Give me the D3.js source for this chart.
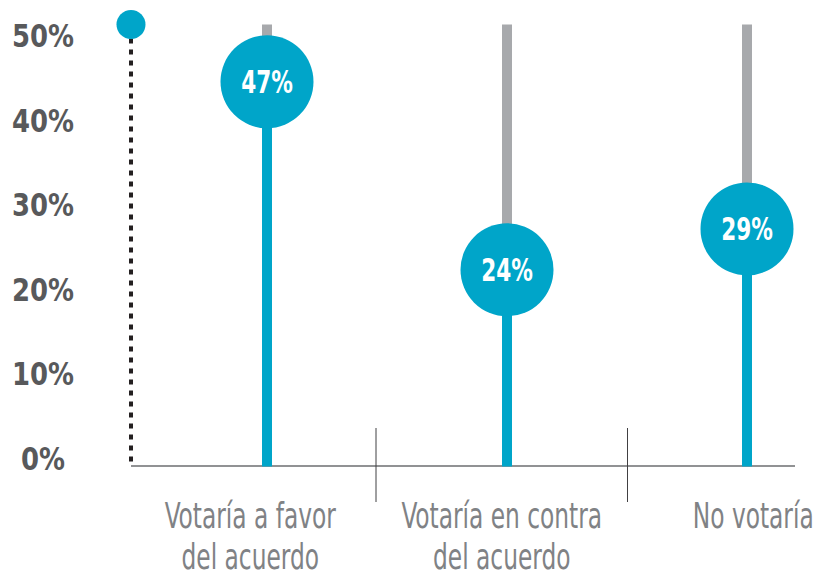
<!DOCTYPE html>
<html>
<head>
<meta charset="utf-8">
<script src="https://cdn.jsdelivr.net/npm/d3@7"></script>
<style>
  html, body { margin: 0; padding: 0; background: #fff; }
  svg { display: block; }
  text { font-family: "DejaVu Sans Condensed", "DejaVu Sans", sans-serif; font-stretch: condensed; }
</style>
</head>
<body>
<svg id="chart" width="815" height="579"></svg>
<script>
// chart data
const categories = ['Votaría a favor del acuerdo', 'Votaría en contra del acuerdo', 'No votaría'];
const categoryLines = [['Votaría a favor', 'del acuerdo'], ['Votaría en contra', 'del acuerdo'], ['No votaría']];
const values = [47, 24, 29];
const yTicks = [0, 10, 20, 30, 40, 50];
const trackTop = 54;

const baseY = 466;
const blue = '#00a5c9';
const grey = '#a7a9ac';

const svg = d3.select('#chart');

const y = d3.scaleLinear().domain([0, trackTop]).range([baseY, 24.5]);
const yTickScale = d3.scaleLinear().domain([0, 50]).range([458, 35.5]);
const xBar = d3.scalePoint().domain(categories).range([267, 747]);
const xBand = d3.scaleBand().domain(categories).range([124.5, 879]);

// y tick labels
const yAxis = d3.axisLeft(yTickScale).tickValues(yTicks).tickSize(0).tickFormat((d) => `${d}%`);
const yG = svg.append('g').attr('transform', 'translate(43,0)').call(yAxis);
yG.select('.domain').remove();
yG.selectAll('.tick')
  .attr('transform', (d) => `translate(0,${yTickScale(d)}) scale(0.9,1)`);
yG.selectAll('text')
  .attr('x', 0)
  .attr('dy', '0.36em')
  .attr('text-anchor', 'middle')
  .attr('fill', '#58595b')
  .style('font-family', '"DejaVu Sans Condensed", "DejaVu Sans", sans-serif')
  .style('font-weight', 'bold')
  .style('font-size', '32px');

// dotted axis + top dot
svg.append('line')
  .attr('x1', 131).attr('x2', 131)
  .attr('y1', yTickScale(50) + 3).attr('y2', baseY)
  .attr('stroke', '#231f20')
  .attr('stroke-width', 4)
  .attr('stroke-dasharray', '5,6');

svg.append('circle')
  .attr('cx', 131)
  .attr('cy', y(trackTop))
  .attr('r', 14.5)
  .attr('fill', blue);

// baseline
svg.append('line')
  .attr('x1', 131).attr('x2', 795)
  .attr('y1', baseY).attr('y2', baseY)
  .attr('stroke', '#6d6e71')
  .attr('stroke-width', 1.5);

// separators
svg.selectAll('.sep')
  .data(categories.slice(1))
  .enter()
  .append('line')
  .attr('class', 'sep')
  .attr('x1', (d) => xBand(d)).attr('x2', (d) => xBand(d))
  .attr('y1', 428).attr('y2', 502)
  .attr('stroke', '#414042')
  .attr('stroke-width', 1);

const data = categories.map((c, i) => ({ cat: c, value: values[i], lines: categoryLines[i] }));

const groups = svg.selectAll('.lollipop')
  .data(data)
  .enter()
  .append('g')
  .attr('class', 'lollipop');

groups.append('rect')
  .attr('x', (d) => xBar(d.cat) - 5)
  .attr('y', y(trackTop))
  .attr('width', 10)
  .attr('height', (d) => y(d.value) - y(trackTop))
  .attr('fill', grey);

groups.append('rect')
  .attr('x', (d) => xBar(d.cat) - 5)
  .attr('y', (d) => y(d.value))
  .attr('width', 10)
  .attr('height', (d) => baseY - y(d.value) + 0.5)
  .attr('fill', blue);

groups.append('circle')
  .attr('cx', (d) => xBar(d.cat))
  .attr('cy', (d) => y(d.value))
  .attr('r', 46.5)
  .attr('fill', blue);

// value labels, squeezed to mimic a condensed face
groups.append('text')
  .attr('transform', (d) => `translate(${xBar(d.cat)},${y(d.value)}) scale(0.75,1)`)
  .attr('dy', '0.36em')
  .attr('text-anchor', 'middle')
  .attr('fill', '#fff')
  .style('font-weight', 'bold')
  .style('font-size', '32px')
  .text((d) => `${d.value}%`);

// category labels
groups.append('text')
  .attr('transform', (d) => `translate(${xBand(d.cat) + xBand.bandwidth() / 2},0) scale(0.72,1)`)
  .attr('text-anchor', 'middle')
  .attr('fill', '#808285')
  .style('font-size', '36px')
  .selectAll('tspan')
  .data((d) => d.lines)
  .enter()
  .append('tspan')
  .attr('x', 0)
  .attr('y', (t, i) => 528 + i * 41)
  .text((t) => t);
</script>
</body>
</html>
